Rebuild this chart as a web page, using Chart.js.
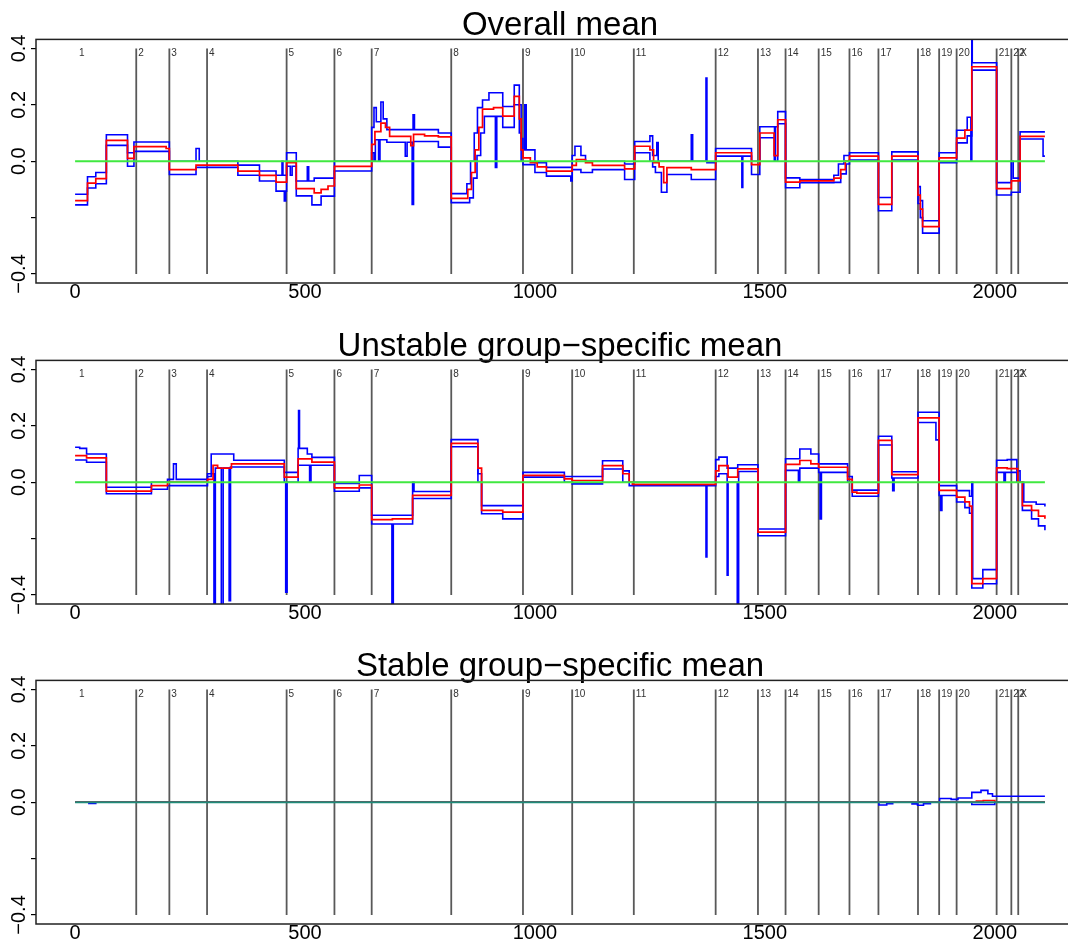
<!DOCTYPE html>
<html><head><meta charset="utf-8">
<script src="https://cdn.jsdelivr.net/npm/chart.js@4.4.1/dist/chart.umd.min.js"></script>
<style>
html,body{margin:0;padding:0;background:#fff;overflow:hidden;width:1068px;height:941px;position:relative;}
canvas{position:absolute;left:0;}
</style></head><body>
<canvas id="c1" width="1100" height="321" style="top:0px;width:1100px;height:321px"></canvas>
<canvas id="c2" width="1100" height="321" style="top:321px;width:1100px;height:321px"></canvas>
<canvas id="c3" width="1100" height="321" style="top:641px;width:1100px;height:321px"></canvas>
<script>
// ---------- data ----------
const panelTitles = ['Overall mean', 'Unstable group\u2212specific mean', 'Stable group\u2212specific mean'];
const xTickValues = [0, 500, 1000, 1500, 2000];
const yTickValues = [-0.4, -0.2, 0, 0.2, 0.4];
const yTickLabels = ['\u22120.4', '', '0.0', '0.2', '0.4'];
const chromLabels = ['1','2','3','4','5','6','7','8','9','10','11','12','13','14','15','16','17','18','19','20','21','22','X'];
const chromStarts = [4,133,205,287,460,564,645,818,974,1081,1215,1393,1485,1545,1617,1684,1747,1833,1879,1917,2004,2036,2051];
const chromLabelLevel = 0.382;
const truth = [[0,0],[2109,0]];

// Panel 1: overall mean
const p1Red = [[0,-0.14],[27,-0.078],[45,-0.062],[68,0.074],[114,0.01],[128,0.052],[198,0.045],[205,-0.03],[263,-0.014],[354,-0.035],[401,-0.05],[437,-0.074],[460,-0.005],[481,-0.097],[520,-0.112],[535,-0.1],[550,-0.088],[564,-0.018],[645,0.06],[652,0.105],[665,0.135],[675,0.12],[684,0.088],[730,0.055],[736,0.095],[760,0.09],[790,0.086],[818,-0.132],[854,-0.1],[862,-0.04],[870,0.04],[878,0.12],[886,0.185],[910,0.19],[930,0.16],[955,0.23],[966,0.15],[970,0.04],[974,0.012],[990,-0.005],[1005,-0.02],[1025,-0.035],[1081,-0.015],[1090,0.006],[1110,-0.005],[1125,-0.015],[1195,-0.027],[1217,0.053],[1250,0.04],[1258,-0.005],[1270,-0.02],[1280,-0.076],[1287,-0.023],[1340,-0.03],[1393,0.03],[1471,-0.012],[1489,0.1],[1520,0.02],[1528,0.147],[1545,-0.074],[1576,-0.07],[1650,-0.06],[1665,-0.03],[1675,0.0],[1684,0.018],[1747,-0.153],[1776,0.018],[1833,-0.12],[1838,-0.17],[1843,-0.232],[1879,0.012],[1917,0.082],[1935,0.11],[1950,0.335],[2004,-0.097],[2036,-0.07],[2055,0.088],[2109,0.088]];
const p1Upper = [[0,-0.117],[27,-0.055],[45,-0.04],[68,0.094],[114,0.03],[128,0.068],[205,0.0],[263,0.045],[270,0.0],[354,-0.014],[401,-0.035],[437,-0.05],[450,0.0],[452,-0.05],[460,0.03],[481,-0.07],[505,-0.02],[508,-0.07],[520,-0.06],[564,0.0],[645,0.12],[650,0.19],[655,0.14],[665,0.21],[670,0.15],[678,0.112],[720,0.112],[735,0.165],[738,0.112],[790,0.1],[818,-0.115],[852,-0.08],[860,0.0],[868,0.1],[875,0.19],[886,0.217],[900,0.243],[930,0.194],[955,0.27],[966,0.2],[970,0.08],[974,0.04],[978,0.2],[981,0.04],[1000,-0.005],[1025,-0.022],[1081,0.02],[1087,0.053],[1100,0.02],[1110,0.0],[1195,-0.01],[1217,0.07],[1250,0.09],[1256,0.02],[1265,0.066],[1268,0.0],[1340,0.094],[1343,0.0],[1372,0.295],[1374,-0.005],[1393,0.045],[1471,0.0],[1489,0.122],[1521,0.0],[1523,0.122],[1528,0.176],[1545,-0.059],[1576,-0.065],[1650,-0.05],[1660,-0.01],[1672,0.02],[1684,0.03],[1747,-0.129],[1776,0.033],[1833,-0.09],[1838,-0.14],[1843,-0.211],[1879,0.03],[1917,0.11],[1940,0.156],[1948,0.0],[1950,0.46],[1951,0.349],[2004,-0.076],[2036,0.0],[2040,-0.06],[2055,0.104],[2109,0.104]];
const p1Lower = [[0,-0.155],[27,-0.095],[45,-0.08],[68,0.056],[114,-0.018],[128,0.035],[205,-0.047],[263,-0.022],[354,-0.05],[401,-0.07],[437,-0.106],[455,-0.141],[458,-0.106],[460,-0.018],[468,-0.05],[472,-0.018],[481,-0.123],[515,-0.155],[535,-0.124],[564,-0.035],[645,0.03],[650,0.0],[653,0.076],[660,0.0],[663,0.076],[678,0.067],[718,0.018],[722,0.067],[733,-0.153],[736,0.07],[790,0.05],[818,-0.147],[858,-0.13],[866,-0.06],[874,0.02],[882,0.1],[890,0.159],[910,0.159],[914,-0.022],[917,0.159],[930,0.12],[955,0.2],[966,0.1],[970,0.0],[974,-0.012],[1000,-0.04],[1025,-0.053],[1078,-0.07],[1081,-0.03],[1100,-0.04],[1125,-0.03],[1195,-0.065],[1217,0.03],[1250,0.0],[1256,-0.02],[1262,-0.04],[1275,-0.11],[1287,-0.047],[1340,-0.065],[1393,0.018],[1450,-0.093],[1452,0.018],[1471,-0.047],[1489,0.083],[1521,0.0],[1528,0.133],[1545,-0.094],[1576,-0.076],[1650,-0.075],[1665,-0.045],[1677,-0.01],[1684,0.004],[1747,-0.176],[1776,0.004],[1833,-0.15],[1838,-0.2],[1843,-0.255],[1879,-0.005],[1917,0.065],[1940,0.09],[1950,0.323],[2004,-0.12],[2036,-0.11],[2055,0.079],[2105,0.018],[2109,0.018]];

// Panel 2: unstable group-specific mean
const p2Red = [[0,0.094],[25,0.086],[68,-0.032],[166,-0.012],[201,0.0],[288,0.01],[300,0.06],[310,0.05],[340,0.065],[455,0.018],[485,0.083],[515,0.071],[564,-0.02],[618,-0.01],[645,-0.133],[690,-0.13],[734,-0.047],[818,0.138],[876,0.05],[884,-0.1],[930,-0.106],[974,0.024],[1064,0.012],[1081,0.006],[1147,0.059],[1191,0.03],[1205,0.0],[1212,-0.008],[1393,0.04],[1400,0.059],[1420,0.018],[1441,0.047],[1485,-0.177],[1545,0.063],[1576,0.077],[1600,0.065],[1617,0.053],[1680,0.01],[1690,-0.035],[1700,-0.039],[1747,0.148],[1776,0.027],[1833,0.228],[1879,-0.029],[1917,-0.053],[1935,-0.07],[1945,-0.085],[1950,-0.36],[1974,-0.342],[2004,0.051],[2027,0.048],[2050,0.0],[2060,-0.083],[2080,-0.1],[2095,-0.12],[2109,-0.13]];
const p2Upper = [[0,0.124],[10,0.12],[25,0.1],[68,-0.018],[166,0.0],[201,0.01],[214,0.065],[220,0.01],[288,0.02],[296,0.1],[338,0.1],[345,0.078],[455,0.035],[485,0.12],[486,0.254],[488,0.12],[505,0.1],[515,0.088],[564,-0.004],[618,0.024],[645,-0.117],[734,0.0],[737,-0.033],[818,0.151],[876,0.03],[884,-0.083],[974,0.035],[1064,0.02],[1147,0.076],[1191,0.04],[1205,0.0],[1393,0.08],[1400,0.089],[1418,0.05],[1441,0.062],[1485,-0.166],[1545,0.083],[1576,0.118],[1600,0.1],[1617,0.065],[1680,0.02],[1690,-0.028],[1747,0.163],[1776,0.037],[1833,0.248],[1879,-0.012],[1917,-0.03],[1945,-0.05],[1950,0.0],[1952,-0.342],[1974,-0.31],[2004,0.078],[2027,0.08],[2048,0.04],[2055,0.0],[2063,-0.07],[2090,-0.078],[2109,-0.086]];
const p2Lower = [[0,0.079],[25,0.071],[68,-0.041],[166,-0.025],[201,-0.012],[288,0.03],[302,-0.45],[305,0.05],[318,-0.45],[322,0.05],[335,-0.42],[338,0.054],[455,0.0],[458,-0.39],[461,0.0],[485,0.06],[510,0.0],[513,0.06],[564,-0.032],[618,-0.02],[645,-0.148],[689,-0.45],[692,-0.148],[734,-0.058],[818,0.126],[876,0.0],[884,-0.112],[930,-0.13],[974,0.018],[1064,0.0],[1081,-0.006],[1147,0.047],[1191,0.0],[1205,-0.012],[1372,-0.265],[1374,-0.012],[1393,0.02],[1400,0.03],[1418,-0.33],[1420,0.0],[1440,-0.45],[1443,0.038],[1485,-0.19],[1545,0.042],[1573,0.0],[1576,0.05],[1617,0.035],[1620,-0.13],[1623,0.035],[1680,0.0],[1690,-0.05],[1747,0.132],[1776,0.015],[1778,-0.03],[1781,0.015],[1833,0.212],[1872,0.15],[1879,-0.047],[1882,-0.1],[1885,-0.047],[1917,-0.07],[1935,-0.09],[1945,-0.11],[1950,-0.375],[1974,-0.36],[2004,0.035],[2020,0.0],[2023,0.035],[2048,0.0],[2060,-0.1],[2080,-0.13],[2095,-0.155],[2109,-0.17]];

// Panel 3: stable group-specific mean
const p3Red = [[0,0],[1940,0.0],[1960,0.004],[1975,0.006],[2000,0.0],[2109,0.0]];
const p3Upper = [[0,0.0],[1880,0.013],[1905,0.01],[1920,0.015],[1950,0.035],[1970,0.042],[1985,0.03],[1995,0.021],[2109,0.021]];
const p3Lower = [[0,0],[30,-0.004],[45,0],[1740,0],[1748,-0.01],[1765,-0.005],[1778,0],[1820,-0.006],[1832,-0.011],[1845,-0.005],[1860,0],[1950,-0.008],[1985,-0.008],[2000,0],[2109,0]];

// ---------- drawing ----------
const FONT = 'Liberation Sans, Arial, Helvetica, sans-serif';
function toPts(arr){ return arr.map(p => ({x:p[0], y:p[1]})); }
function vlinePts(){
  const pts = [];
  chromStarts.slice(1).forEach(b => { pts.push({x:b,y:0.4},{x:b,y:-0.4},{x:b,y:null}); });
  return pts;
}

const panelDecor = {
  id: 'panelDecor',
  afterDatasetsDraw(chart){
    const {ctx, chartArea:a, scales:{x, y}} = chart;
    ctx.save();
    ctx.font = '10px ' + FONT;
    ctx.fillStyle = '#333';
    ctx.textBaseline = 'middle';
    ctx.textAlign = 'left';
    const ly = y.getPixelForValue(chromLabelLevel);
    chromLabels.forEach((t, i) => ctx.fillText(t, x.getPixelForValue(chromStarts[i]) + 2, ly));
    ctx.strokeStyle = '#222';
    ctx.lineWidth = 1.5;
    ctx.strokeRect(a.left, a.top, a.right - a.left, a.bottom - a.top);
    ctx.restore();
  }
};

function makePanel(id, title, red, upper, lower, truthColor){
  new Chart(document.getElementById(id), {
    type: 'line',
    data: { datasets: [
      { data: toPts(truth), borderColor: truthColor, borderWidth: 2, pointRadius: 0, order: 1 },
      { data: toPts(red), borderColor: '#ff0000', borderWidth: 1.7, pointRadius: 0, stepped: true, order: 2 },
      { data: toPts(upper), borderColor: '#0000ff', borderWidth: 1.6, pointRadius: 0, stepped: true, order: 3 },
      { data: toPts(lower), borderColor: '#0000ff', borderWidth: 1.6, pointRadius: 0, stepped: true, order: 3 },
      { data: vlinePts(), borderColor: 'rgba(60,60,60,0.85)', borderWidth: 1.8, pointRadius: 0, spanGaps: false, order: 10 }
    ]},
    options: {
      responsive: false, animation: false, devicePixelRatio: 1,
      layout: { padding: { left: 0, right: 16, top: 0, bottom: 0 } },
      plugins: {
        legend: { display: false }, tooltip: { enabled: false },
        title: { display: true, text: title, fullSize: false, color: '#000',
          font: { family: FONT, size: 33, weight: 'normal', lineHeight: 0.8 },
          padding: { top: 13, bottom: 0 } }
      },
      scales: {
        x: { type: 'linear', min: -85, max: 2194,
          afterBuildTicks: s => { s.ticks = xTickValues.map(v => ({value: v})); },
          afterFit: s => { s.height = 38; },
          ticks: { callback: v => String(v), padding: -3, autoSkip: false, maxRotation: 0,
            font: { family: FONT, size: 20 }, color: '#000' },
          grid: { display: false, drawTicks: false },
          border: { display: false } },
        y: { type: 'linear', min: -0.432, max: 0.432,
          afterBuildTicks: s => { s.ticks = yTickValues.map(v => ({value: v})); },
          afterFit: s => { s.width = 36; },
          ticks: { callback: (v, i) => yTickLabels[i], minRotation: 90, maxRotation: 90,
            crossAlign: 'center', padding: -8, font: { family: FONT, size: 20 }, color: '#000' },
          grid: { drawOnChartArea: false, drawTicks: true, tickLength: 5, color: '#000', lineWidth: 1.2 },
          border: { display: false } }
      }
    },
    plugins: [panelDecor]
  });
}

makePanel('c1', panelTitles[0], p1Red, p1Upper, p1Lower, '#40e840');
makePanel('c2', panelTitles[1], p2Red, p2Upper, p2Lower, '#40e840');
makePanel('c3', panelTitles[2], p3Red, p3Upper, p3Lower, '#1f8c7a');
</script>
</body></html>
